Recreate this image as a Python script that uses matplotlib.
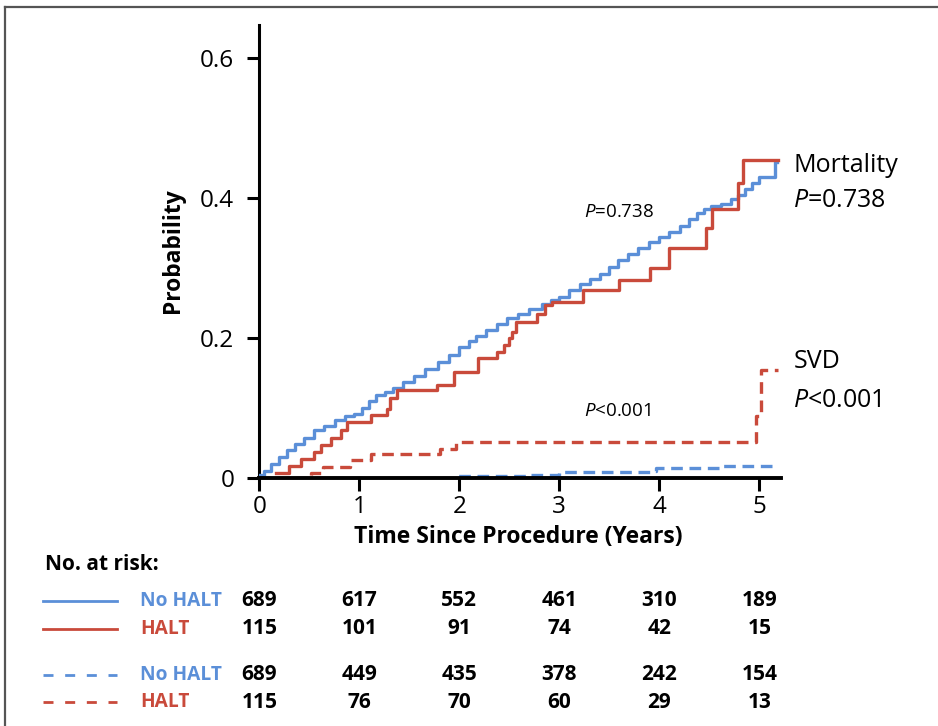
"""Cumulative incidence of mortality and SVD, HALT vs no HALT, with risk table."""
import matplotlib
matplotlib.use("Agg")
import matplotlib.pyplot as plt
from matplotlib.transforms import blended_transform_factory
from matplotlib.lines import Line2D

plt.rcParams["font.family"] = ["Open Sans", "DejaVu Sans"]
plt.rcParams["mathtext.fontset"] = "custom"
plt.rcParams["mathtext.it"] = "Open Sans:italic"
plt.rcParams["mathtext.rm"] = "Open Sans"

BLUE = "#5B8FD8"
RED = "#C94A3B"

# --- data (step curves: time in years, probability) ---
mort_nohalt_t = [0, 0.05, 0.12, 0.2, 0.28, 0.36, 0.45, 0.55, 0.65, 0.76, 0.86, 0.95,
                 1.03, 1.1, 1.17, 1.26, 1.34, 1.44, 1.55, 1.66, 1.79, 1.9, 2.0, 2.1,
                 2.17, 2.27, 2.38, 2.48, 2.59, 2.7, 2.83, 2.92, 3.0, 3.1, 3.21, 3.31,
                 3.41, 3.5, 3.59, 3.69, 3.79, 3.9, 4.0, 4.1, 4.21, 4.3, 4.38, 4.45,
                 4.52, 4.62, 4.72, 4.79, 4.86, 4.93, 5.0, 5.16, 5.18]
mort_nohalt_p = [0.004, 0.010, 0.020, 0.030, 0.040, 0.048, 0.057, 0.068, 0.075, 0.083,
                 0.088, 0.092, 0.100, 0.110, 0.119, 0.123, 0.128, 0.137, 0.146, 0.156,
                 0.166, 0.176, 0.187, 0.196, 0.203, 0.211, 0.220, 0.228, 0.234, 0.241,
                 0.249, 0.254, 0.259, 0.268, 0.277, 0.285, 0.292, 0.302, 0.311, 0.320,
                 0.328, 0.337, 0.344, 0.352, 0.360, 0.370, 0.378, 0.384, 0.388, 0.392,
                 0.398, 0.405, 0.413, 0.421, 0.430, 0.452, 0.452]

mort_halt_t = [0.17, 0.30, 0.42, 0.55, 0.62, 0.72, 0.82, 0.88, 1.12, 1.28, 1.31, 1.38,
               1.78, 1.95, 2.19, 2.38, 2.45, 2.50, 2.53, 2.57, 2.78, 2.86, 2.93, 3.24,
               3.60, 3.91, 4.10, 4.47, 4.53, 4.79, 4.84, 5.19]
mort_halt_p = [0.007, 0.017, 0.027, 0.037, 0.047, 0.057, 0.068, 0.080, 0.090, 0.099,
               0.114, 0.126, 0.133, 0.152, 0.171, 0.180, 0.190, 0.200, 0.209, 0.223,
               0.235, 0.247, 0.252, 0.269, 0.283, 0.300, 0.328, 0.357, 0.385, 0.421,
               0.454, 0.454]

svd_nohalt_t = [0, 1.95, 2.7, 3.0, 3.94, 3.97, 4.62, 5.17]
svd_nohalt_p = [0.0, 0.003, 0.005, 0.008, 0.010, 0.014, 0.017, 0.017]

svd_halt_t = [0, 0.52, 0.64, 0.91, 1.12, 1.81, 1.97, 4.97, 5.02, 5.19]
svd_halt_p = [0.0, 0.007, 0.016, 0.026, 0.034, 0.042, 0.052, 0.088, 0.154, 0.154]

risk_times = [0, 1, 2, 3, 4, 5]
risk_mort_nohalt = [689, 617, 552, 461, 310, 189]
risk_mort_halt = [115, 101, 91, 74, 42, 15]
risk_svd_nohalt = [689, 449, 435, 378, 242, 154]
risk_svd_halt = [115, 76, 70, 60, 29, 13]

W, H = 938, 726
fig = plt.figure(figsize=(W / 100, H / 100), dpi=100)
fig.patch.set_facecolor("white")

x0, y0 = 259.3, 478.0          # pixel position of the origin
px_per_year, px_per_unit = 100.0, 700.0
xmax, ymax = 5.22, 0.647
ax = fig.add_axes([x0 / W, (H - y0) / H, xmax * px_per_year / W, ymax * px_per_unit / H])
ax.set_xlim(0, xmax)
ax.set_ylim(0, ymax)

lw = 2.4
dash = (3.5, 2.0)
ax.step(mort_nohalt_t, mort_nohalt_p, where="post", color=BLUE, lw=lw, zorder=3)
ax.step(mort_halt_t, mort_halt_p, where="post", color=RED, lw=lw, zorder=4)
ax.step(svd_nohalt_t, svd_nohalt_p, where="post", color=BLUE, lw=lw, dashes=dash, zorder=3)
ax.step(svd_halt_t, svd_halt_p, where="post", color=RED, lw=lw, dashes=dash, zorder=3)

for s in ["top", "right"]:
    ax.spines[s].set_visible(False)
ax.spines["left"].set_linewidth(2.2)
ax.spines["bottom"].set_linewidth(2.8)
ax.spines["bottom"].set_zorder(5)
ax.set_xticks([0, 1, 2, 3, 4, 5])
ax.set_xticklabels(["0", "1", "2", "3", "4", "5"])
ax.set_yticks([0, 0.2, 0.4, 0.6])
ax.set_yticklabels(["0", "0.2", "0.4", "0.6"])
ax.tick_params(axis="x", length=9, width=2.2, labelsize=17.5, pad=3)
ax.tick_params(axis="y", length=9, width=2.2, labelsize=17.5, pad=9)

ax.set_xlabel("Time Since Procedure (Years)", fontsize=16.5, fontweight="bold")
ax.xaxis.set_label_coords(0.496, -0.103)
ax.set_ylabel("Probability", fontsize=16.5, fontweight="bold")
ax.yaxis.set_label_coords(-0.142, 0.503)

ax.text(3.25, 0.38, r"$\it{P}$=0.738", fontsize=13.5, va="center", ha="left")
ax.text(3.25, 0.096, r"$\it{P}$<0.001", fontsize=13.5, va="center", ha="left")
ax.text(5.34, 0.447, "Mortality", fontsize=18, va="center", ha="left", clip_on=False)
ax.text(5.34, 0.397, r"$\it{P}$=0.738", fontsize=18, va="center", ha="left", clip_on=False)
ax.text(5.34, 0.166, "SVD", fontsize=18, va="center", ha="left", clip_on=False)
ax.text(5.34, 0.111, r"$\it{P}$<0.001", fontsize=18, va="center", ha="left", clip_on=False)

# --- number at risk table ---
fig.text(45 / W, 1 - 565 / H, "No. at risk:", fontsize=15, fontweight="bold",
         va="center", ha="left")
trans = blended_transform_factory(ax.transData, fig.transFigure)
rows = [
    ("No HALT", BLUE, "-", risk_mort_nohalt, 601),
    ("HALT", RED, "-", risk_mort_halt, 629),
    ("No HALT", BLUE, "--", risk_svd_nohalt, 675),
    ("HALT", RED, "--", risk_svd_halt, 702),
]
for name, col, ls, counts, ypix in rows:
    yf = 1 - ypix / H
    ln = Line2D([43 / W, 117 / W], [yf, yf], transform=fig.transFigure, color=col, lw=2.0)
    if ls == "--":
        ln.set_dashes((3.6, 4.2))
    fig.add_artist(ln)
    fig.text(140 / W, yf, name, color=col, fontsize=13.8, fontweight="bold",
             va="center", ha="left")
    for t, n in zip(risk_times, counts):
        ax.text(t, yf, str(n), transform=trans, fontsize=15, fontweight="bold",
                va="center", ha="center", clip_on=False)

# thin frame at top and left edge of the panel
fig.add_artist(Line2D([5 / W, 1], [1 - 6.5 / H, 1 - 6.5 / H], transform=fig.transFigure,
                      color="#555555", lw=1.6))
fig.add_artist(Line2D([5 / W, 5 / W], [0, 1 - 6.5 / H], transform=fig.transFigure,
                      color="#555555", lw=1.6))

fig.savefig("out.png", dpi=100)
